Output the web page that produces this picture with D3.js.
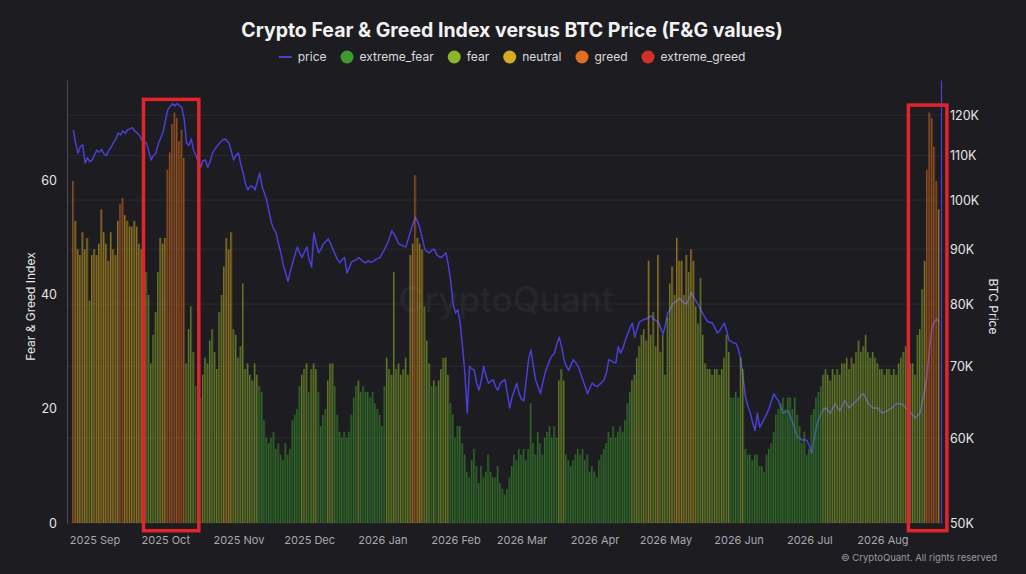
<!DOCTYPE html>
<html>
<head>
<meta charset="utf-8">
<script src="https://cdn.jsdelivr.net/npm/d3@7/dist/d3.min.js"></script>
<style>
body{margin:0;background:#1c1c21}
svg{display:block}
</style>
</head>
<body>
<svg id="fg-svg" width="1026" height="574"></svg>
<script>
// daily values starting 2025-08-23
var startDay = Date.UTC(2025, 7, 23)

var fngValues = [
60,53,48,47,51,48,50,39,47,48,
47,49,55,51,49,46,51,48,47,53,
56,57,54,53,52,52,53,52,49,48,
44,44,40,28,33,37,44,50,49,50,
62,65,70,72,71,67,69,64,28,34,
38,30,24,22,22,26,29,28,32,34,
30,27,37,40,45,50,48,51,34,33,
29,31,42,27,28,26,25,28,26,24,
23,18,15,14,15,16,13,14,12,11,
14,12,13,18,19,20,24,26,27,28,
23,27,28,27,23,17,19,20,25,28,
28,24,19,16,15,16,15,16,19,22,
24,25,23,24,23,23,22,23,21,20,
19,17,24,29,27,26,44,27,28,26,
27,29,26,47,49,61,50,49,48,38,
32,28,24,25,24,25,27,29,29,26,
21,19,15,17,17,14,12,9,8,11,
13,10,7,10,8,9,12,9,8,8,
10,7,6,5,6,8,10,12,11,13,
12,13,11,13,21,14,12,16,14,12,
15,16,17,15,17,15,25,27,25,12,
11,10,11,12,13,12,13,11,12,9,
10,9,8,11,12,13,14,16,15,17,
15,16,17,16,18,21,23,25,26,29,
31,33,34,32,46,33,37,31,47,30,
33,26,36,42,45,40,50,46,46,40,
47,44,48,46,38,35,43,33,28,27,
27,26,27,27,26,27,29,33,30,22,
22,23,22,29,27,13,12,12,11,12,
12,10,10,9,12,13,14,16,19,20,
21,22,20,22,22,20,22,19,17,14,
16,12,13,19,20,22,23,24,26,27,
26,25,27,26,27,26,28,28,29,27,
29,28,30,32,30,31,33,30,29,30,
29,28,27,27,26,27,27,26,27,26,
28,29,30,31,29,28,28,26,33,34,
41,46,62,72,71,66,60,55
]

// BTC price, thousands of USD
var priceValues = [
116.2,113.0,110.6,112.2,112.6,108.3,109.5,108.6,109.0,110.2,
111.3,110.8,111.5,110.4,110.0,111.2,112.0,113.1,114.0,115.5,
115.0,116.0,115.4,116.3,116.5,116.8,116.0,115.5,115.0,113.8,
113.4,113.0,111.0,109.0,110.0,110.6,112.8,114.2,115.5,118.5,
121.3,122.2,123.0,122.4,123.0,122.5,122.0,119.0,113.0,112.5,
114.0,111.3,110.0,108.5,107.3,108.8,109.0,107.3,108.6,110.6,
111.5,112.3,113.0,113.6,114.0,113.7,113.0,111.0,109.0,110.2,
110.6,108.0,106.0,103.5,102.2,103.0,103.0,102.2,104.0,106.0,
103.0,101.5,100.0,97.5,95.2,94.0,93.2,91.0,89.3,87.0,
85.5,84.0,85.8,87.4,89.0,90.4,89.2,88.4,89.5,90.4,
88.0,86.6,93.2,91.0,89.3,90.0,91.0,91.5,92.0,91.2,
90.0,89.0,88.0,87.4,88.0,88.4,85.5,86.5,87.6,87.8,
88.0,88.4,88.0,87.6,87.4,87.8,87.5,87.6,88.0,88.2,
88.4,89.2,90.0,91.0,92.2,93.6,93.0,92.0,91.0,90.8,
90.6,90.4,92.0,93.5,95.0,96.4,95.5,94.0,92.0,90.0,
89.5,89.3,89.8,90.0,89.0,88.6,88.4,88.8,89.3,87.0,
84.0,80.0,78.5,79.0,76.8,73.0,69.0,63.3,70.0,69.6,
69.4,67.5,66.5,68.0,70.0,68.5,67.5,67.8,68.0,67.0,
66.5,67.5,67.8,68.0,66.0,64.0,65.5,66.5,67.5,66.0,
65.2,65.0,68.0,71.0,72.5,70.0,68.0,67.0,66.0,67.5,
69.0,70.0,71.0,71.6,72.0,73.5,74.5,73.0,71.0,70.0,
69.4,70.2,71.0,70.5,70.0,69.0,68.0,67.0,66.0,66.8,
67.5,67.2,67.0,67.3,67.6,68.0,69.0,71.0,70.8,70.6,
70.5,73.0,72.0,72.8,74.0,75.0,76.0,76.8,74.5,75.8,
77.0,77.2,77.4,77.5,77.8,78.0,77.5,77.2,77.0,76.0,
75.0,76.5,78.5,79.0,80.0,80.3,80.6,81.0,80.5,80.2,
80.0,81.0,82.0,81.2,80.5,79.8,79.0,78.3,77.6,77.0,
76.9,76.8,76.0,75.2,75.5,76.2,76.8,75.5,74.0,73.8,
73.6,73.5,72.5,71.0,68.0,65.5,64.2,63.3,62.0,61.0,
63.3,61.4,62.0,62.6,63.2,64.0,65.0,66.0,65.4,65.0,
64.0,63.3,63.5,63.6,62.8,62.0,61.0,60.1,60.0,59.7,
59.8,59.7,59.0,58.1,59.8,61.4,62.5,63.3,63.8,64.0,
63.6,63.3,64.0,64.6,64.0,63.6,64.3,65.0,64.5,64.0,
64.4,64.7,65.0,65.4,65.8,66.0,65.3,64.6,64.3,64.0,
64.0,64.0,63.6,63.3,63.5,63.6,63.8,64.0,64.3,64.6,
64.6,64.6,64.3,64.0,63.6,63.3,63.0,62.6,63.0,63.3,
65.0,66.5,69.0,72.8,76.0,77.0,77.5,77.0
]

var categories = ['extreme_fear','fear','neutral','greed','extreme_greed']
var categoryUpper = [25,45,56,76,101]   // value < upper -> category
var fngTicks = [0,20,40,60]
var priceTicks = [50,60,70,80,90,100,110,120]

// highlighted periods (red boxes)
var highlights = [
    {from:'2025-09-21T18:00:00Z', to:'2025-10-15T05:00:00Z', top:74.3},
    {from:'2026-08-12T00:00:00Z', to:'2026-08-28T08:00:00Z', top:73.3}
]

var colors = {
    extreme_fear:'#3f9a2f',
    fear:'#8db42b',
    neutral:'#d6ab22',
    greed:'#e0701f',
    extreme_greed:'#d2302b',
    price:'#4b3fd6'
}

display()

function category(v) {
    for (var i=0;i<categoryUpper.length;i++) if (v<categoryUpper[i]) return categories[i]
    return categories[categories.length-1]
}

function display()
{
    var svg=d3.select('#fg-svg')
    var conf={width:1026,height:574}
    var plot={left:67,right:941,top:80,bottom:523}
    var day=86400000

    var data=fngValues.map((v,i)=>({
        date:new Date(startDay+i*day),
        fng:v,
        price:priceValues[i],
        cat:category(v)
    }))

    var x=d3.scaleUtc()
        .domain([new Date(Date.UTC(2025,7,20,8)), new Date(Date.UTC(2026,7,25,20))])
        .range([plot.left,plot.right])
    var yF=d3.scaleLinear().domain([0,77.7]).range([plot.bottom,plot.top])
    var yP=d3.scaleLog().domain([50,129.4]).range([plot.bottom,plot.top])

    svg.append('rect').attr('width',conf.width).attr('height',conf.height).attr('fill','#1c1c21')

    // title
    svg.append('text')
        .attr('x',512).attr('y',37)
        .attr('text-anchor','middle')
        .attr('fill','#f2f2f2')
        .style('font','bold 19.5px Inter, "Open Sans", sans-serif')
        .text('Crypto Fear & Greed Index versus BTC Price (F&G values)')

    // legend
    var legendItems=['price'].concat(categories)
    var lg=svg.append('g')
    var cx=0, gap=14
    legendItems.forEach(name=>{
        var it=lg.append('g').attr('transform',`translate(${cx},0)`)
        if (name=='price') {
            it.append('line').attr('x1',0).attr('x2',13).attr('y1',0).attr('y2',0)
                .attr('stroke',colors.price).attr('stroke-width',2)
        } else {
            it.append('circle').attr('cx',6.5).attr('cy',0).attr('r',6.5).attr('fill',colors[name])
        }
        var t=it.append('text').attr('x',19).attr('y',0).attr('dy','0.35em')
            .attr('fill','#dcdcdc')
            .style('font','12px Inter, "Open Sans", sans-serif')
            .text(name)
        cx+=19+t.node().getComputedTextLength()+gap
    })
    lg.attr('transform',`translate(${512-(cx-gap)/2},57)`)

    // watermark
    svg.append('text')
        .attr('x',506).attr('y',300).attr('dy','0.35em')
        .attr('text-anchor','middle')
        .attr('fill','#ffffff').attr('opacity',0.045)
        .style('font','500 35px Inter, "Open Sans", sans-serif')
        .text('CryptoQuant')

    // grid from price axis
    svg.append('g')
        .selectAll('line')
        .data(priceTicks)
        .join('line')
        .attr('x1',plot.left).attr('x2',plot.right)
        .attr('y1',d=>yP(d)).attr('y2',d=>yP(d))
        .attr('stroke','#2a2a31').attr('stroke-width',1)

    // price line
    var lineGen=d3.line().x(d=>x(d.date)).y(d=>yP(d.price))
    svg.append('path')
        .datum(data)
        .attr('d',lineGen)
        .attr('fill','none')
        .attr('stroke',colors.price)
        .attr('stroke-width',1.5)
        .attr('stroke-linejoin','round')

    // F&G bars: dim fill with a brighter edge
    var bw=1.9
    svg.append('g')
        .selectAll('rect')
        .data(data)
        .join('rect')
        .attr('x',d=>x(d.date)-bw/2)
        .attr('width',bw)
        .attr('y',d=>yF(d.fng))
        .attr('height',d=>yF(0)-yF(d.fng))
        .attr('fill',d=>colors[d.cat])
        .attr('fill-opacity',0.3)
    svg.append('g')
        .selectAll('line')
        .data(data)
        .join('line')
        .attr('x1',d=>x(d.date)-bw/2+0.3)
        .attr('x2',d=>x(d.date)-bw/2+0.3)
        .attr('y1',d=>yF(d.fng))
        .attr('y2',yF(0))
        .attr('stroke',d=>colors[d.cat])
        .attr('stroke-width',0.6)
        .attr('stroke-opacity',0.85)

    // left axis
    var gl=svg.append('g').attr('transform',`translate(${plot.left},0)`)
        .call(d3.axisLeft(yF).tickValues(fngTicks).tickSize(0).tickPadding(10))
    gl.select('.domain').attr('stroke','#4a4a55')
    gl.selectAll('text').attr('fill','#e6e6e6').style('font','12.5px Inter, "Open Sans", sans-serif')

    // right axis
    var gr=svg.append('g').attr('transform',`translate(${plot.right},0)`)
        .call(d3.axisRight(yP).tickValues(priceTicks).tickFormat(d=>d+'K').tickSize(0).tickPadding(9))
    gr.select('.domain').attr('stroke',colors.price).attr('stroke-width',1.2)
    gr.selectAll('text').attr('fill','#e6e6e6').style('font','12.5px Inter, "Open Sans", sans-serif')

    // bottom axis
    var gb=svg.append('g').attr('transform',`translate(0,${plot.bottom})`)
        .call(d3.axisBottom(x).ticks(d3.utcMonth.every(1)).tickFormat(d3.utcFormat('%Y %b')).tickSize(0).tickPadding(13))
    gb.select('.domain').remove()
    gb.selectAll('text').attr('fill','#a9a9b0').style('font','11px Inter, "Open Sans", sans-serif')

    // axis titles
    svg.append('text')
        .attr('transform',`translate(31,${(plot.top+plot.bottom)/2+5}) rotate(-90)`)
        .attr('text-anchor','middle').attr('dy','0.35em')
        .attr('fill','#e6e6e6')
        .style('font','12px Inter, "Open Sans", sans-serif')
        .text('Fear & Greed Index')
    svg.append('text')
        .attr('transform',`translate(993,${(plot.top+plot.bottom)/2+5}) rotate(90)`)
        .attr('text-anchor','middle').attr('dy','0.35em')
        .attr('fill','#e6e6e6')
        .style('font','12px Inter, "Open Sans", sans-serif')
        .text('BTC Price')

    // red highlight boxes
    svg.append('g')
        .selectAll('rect')
        .data(highlights)
        .join('rect')
        .attr('x',d=>x(new Date(d.from)))
        .attr('width',d=>x(new Date(d.to))-x(new Date(d.from)))
        .attr('y',d=>yF(d.top))
        .attr('height',d=>yF(-1.35)-yF(d.top))
        .attr('fill','none')
        .attr('stroke','#e3242b')
        .attr('stroke-width',3.5)

    // copyright
    svg.append('text')
        .attr('x',997).attr('y',561)
        .attr('text-anchor','end')
        .attr('fill','#9a9aa2')
        .style('font','9.5px Inter, "Open Sans", sans-serif')
        .text('© CryptoQuant. All rights reserved')
}
</script>
</body>
</html>
